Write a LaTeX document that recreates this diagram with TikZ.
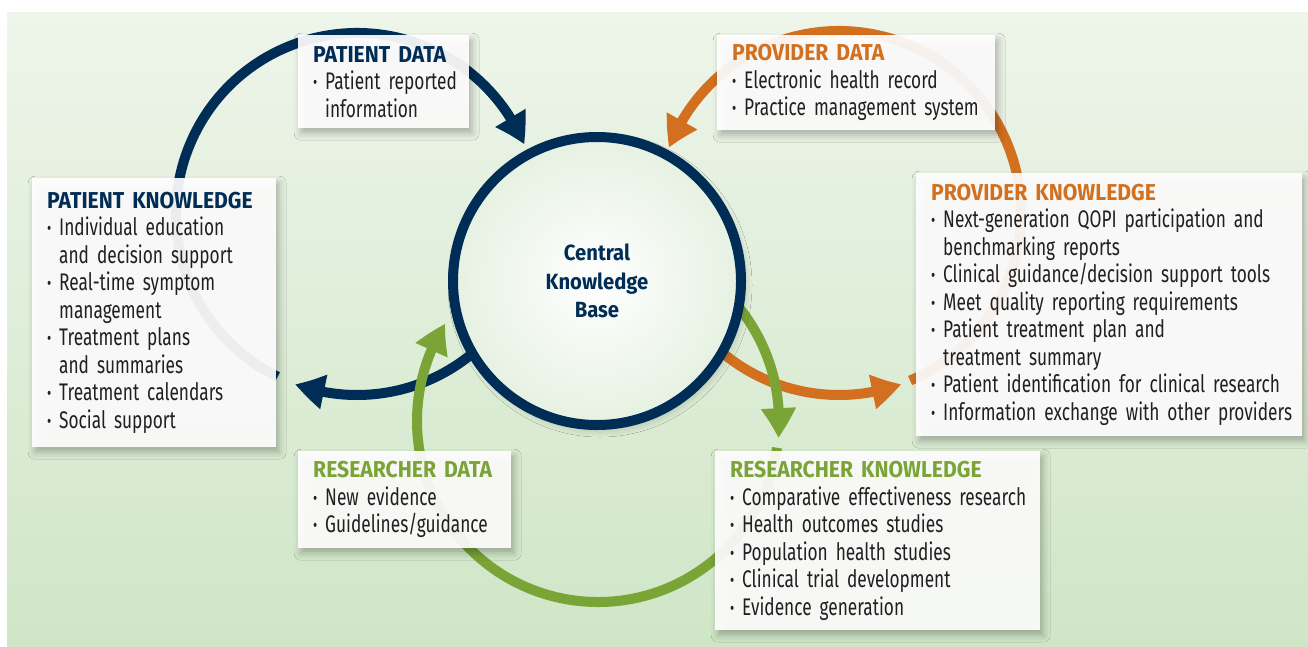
\documentclass[tikz,border=0pt]{standalone}
\usepackage{fontspec}
\setmainfont{Fira Sans}[FakeStretch=0.72]
\newfontfamily\headfont{Fira Sans}[FakeStretch=0.92]
\usepackage{xcolor}
\usetikzlibrary{arrows.meta,bending,shadows.blur,calc}

\definecolor{navy}{HTML}{002D56}
\definecolor{rust}{HTML}{D2701F}
\definecolor{leaf}{HTML}{7AA435}
\definecolor{ink}{HTML}{231F20}
\definecolor{bgtop}{HTML}{EEF5EA}
\definecolor{bgbottom}{HTML}{CFE6C6}
\definecolor{hubedge}{HTML}{E6F1E2}

\newcommand{\bodyfont}{\fontsize{24}{27.5}\selectfont}
\newcommand{\cardhead}[2]{\mbox{\headfont\fontsize{23}{27.5}\selectfont\bfseries\color{#1}#2}}
\newcommand{\bitem}[1]{\mbox{\makebox[12pt][l]{\raisebox{1pt}{\fontsize{18}{18}\selectfont\textbullet}}#1}}
\newcommand{\bcont}[1]{\mbox{\hspace*{12pt}#1}}

\begin{document}
\begin{tikzpicture}[
    x=1pt, y=1pt,
    card/.style={fill=white, fill opacity=0.92, text opacity=1, text=ink, anchor=north west,
        inner xsep=15pt, inner ysep=0pt, align=left, font=\bodyfont,
        blur shadow={shadow xshift=3pt, shadow yshift=-5pt, shadow blur radius=7pt, shadow opacity=30}},
    loop/.style={line width=10pt},
    tip/.style={-{Triangle[length=30pt, width=33pt, bend]}},
]

% canvas and background wash
\fill[white] (0,0) rectangle (1308,-646);
\shade[top color=bgtop, bottom color=bgbottom] (7,-12) rectangle (1308,-646);

% loop centres
\coordinate (pc) at (357,-214);
\coordinate (vc) at (839,-213);
\coordinate (rc) at (598,-421);

% Patient loop
\draw[loop, navy, tip] (pc) ++(244:181) arc[start angle=244, end angle=22.6, radius=181pt];
\draw[loop, navy, tip] (pc) ++(-45:181) arc[start angle=-45, end angle=-110, radius=181pt];

% Provider loop
\draw[loop, rust, tip] (vc) ++(-67:182) arc[start angle=-67, end angle=159, radius=182pt];
\draw[loop, rust, tip] (vc) ++(225:182) arc[start angle=225, end angle=290, radius=182pt];

% Researcher loop
\draw[loop, leaf, tip] (rc) ++(-8.5:181) arc[start angle=-8.5, end angle=-212.5, radius=181pt];
\draw[loop, leaf, tip] (rc) ++(45:181) arc[start angle=45, end angle=-5.4, radius=181pt];

% Central knowledge base
\node[circle, minimum size=288pt, draw=navy, line width=10pt, inner color=white, outer color=hubedge,
    blur shadow={shadow xshift=3pt, shadow yshift=-4pt, shadow blur radius=8pt, shadow opacity=25},
    text=navy, align=center, font=\headfont\fontsize{22}{28.5}\selectfont\bfseries] (hub) at (597,-281)
    {Central\\Knowledge\\Base};

% Data cards (top and bottom left)
\node[card, minimum width=171pt, minimum height=93pt, text width=141pt] (patdata) at (298,-35)
    {\cardhead{navy}{PATIENT DATA}\\
     \bitem{Patient reported}\\
     \bcont{information}};
\node[card, minimum width=278pt, minimum height=95pt, text width=248pt] (provdata) at (717,-35)
    {\cardhead{rust}{PROVIDER DATA}\\
     \bitem{Electronic health record}\\
     \bitem{Practice management system}};
\node[card, minimum width=213pt, minimum height=97pt, text width=183pt] (resdata) at (298,-451)
    {\cardhead{leaf}{RESEARCHER DATA}\\
     \bitem{New evidence}\\
     \bitem{Guidelines/guidance}};

% Knowledge cards
\node[card, minimum width=244pt, minimum height=269pt, text width=214pt] (patknow) at (32,-178)
    {\cardhead{navy}{PATIENT KNOWLEDGE}\\
     \bitem{Individual education}\\
     \bcont{and decision support}\\
     \bitem{Real-time symptom}\\
     \bcont{management}\\
     \bitem{Treatment plans}\\
     \bcont{and summaries}\\
     \bitem{Treatment calendars}\\
     \bitem{Social support}};
\node[card, minimum width=386pt, minimum height=263pt, text width=356pt] (provknow) at (916,-173)
    {\cardhead{rust}{PROVIDER KNOWLEDGE}\\
     \bitem{Next-generation QOPI participation and}\\
     \bcont{benchmarking reports}\\
     \bitem{Clinical guidance/decision support tools}\\
     \bitem{Meet quality reporting requirements}\\
     \bitem{Patient treatment plan and}\\
     \bcont{treatment summary}\\
     \bitem{Patient identification for clinical research}\\
     \bitem{Information exchange with other providers}};
\node[card, minimum width=325pt, minimum height=179pt, text width=295pt] (resknow) at (715,-451)
    {\cardhead{leaf}{RESEARCHER KNOWLEDGE}\\
     \bitem{Comparative effectiveness research}\\
     \bitem{Health outcomes studies}\\
     \bitem{Population health studies}\\
     \bitem{Clinical trial development}\\
     \bitem{Evidence generation}};

\end{tikzpicture}
\end{document}
